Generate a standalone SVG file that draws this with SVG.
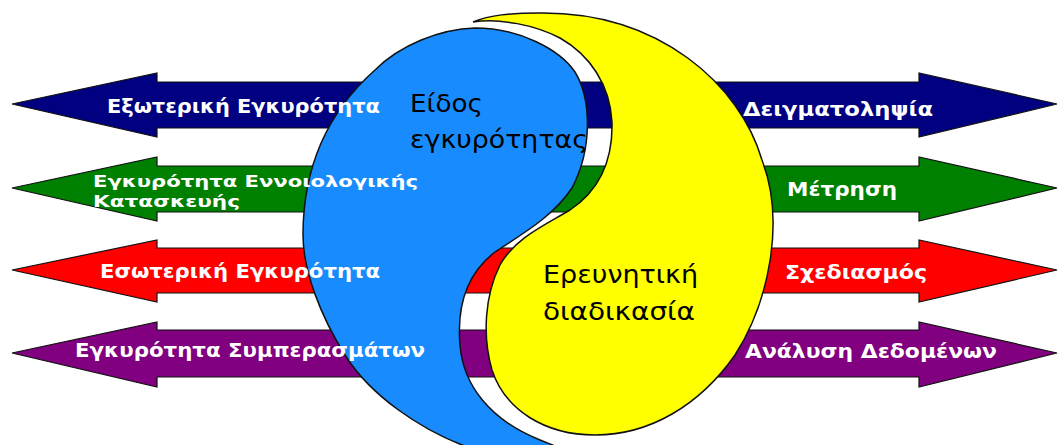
<svg xmlns="http://www.w3.org/2000/svg" width="1058" height="445" viewBox="0 0 1058 445">
<style>
.arrow{stroke:#111;stroke-width:1.2;stroke-linejoin:miter}
.lbl{font-family:"DejaVu Sans","Liberation Sans",sans-serif;font-weight:bold;font-size:19px;fill:#fff}
.sm{font-size:16px}
.ctr{font-family:"DejaVu Sans","Liberation Sans",sans-serif;font-size:25px;fill:#000}
.shape{stroke:#111;stroke-width:1.5}
</style>
<rect width="1058" height="445" fill="#fff"/>
<g id="arrow-navy">
<polygon class="arrow" fill="#000080" points="12,104 157,73 157,82 919,82 919,73 1057,104 919,137 919,128 157,128 157,137"/>
</g>
<g id="arrow-green">
<polygon class="arrow" fill="#008000" points="12,188 157,157 157,166 919,166 919,157 1057,188 919,221 919,212 157,212 157,221"/>
</g>
<g id="arrow-red">
<polygon class="arrow" fill="#ff0000" points="12,270 157,240 157,248 919,248 919,240 1057,270 919,302 919,293 157,293 157,302"/>
</g>
<g id="arrow-purple">
<polygon class="arrow" fill="#800080" points="12,353 157,322 157,330 919,330 919,322 1057,353 919,387 919,377 157,377 157,387"/>
</g>
<g id="yin-blue">
<path class="shape" fill="#188cff" d="M 470,448 C 420,430 370,395 345,355 C 320,315 303,270 303,235 C 303,165 330,110 375,70 C 400,45 440,29 475,28 C 520,28 560,50 575,72 C 592,100 592,150 572,188 C 552,218 520,235 495,252 C 465,275 457,310 460,345 C 463,385 490,420 540,440 L 560,448 Z"/>
</g>
<g id="yang-yellow">
<path class="shape" fill="#ffff00" d="M 473,22 C 490,15 510,13 540,13 C 660,12 740,85 762,160 C 785,220 770,300 735,355 C 700,405 650,435 595,435 C 545,435 505,410 492,370 C 482,335 485,295 500,265 C 515,238 545,225 570,210 C 600,190 613,160 612,122 C 610,85 590,55 560,38 C 535,25 500,18 473,22 Z"/>
</g>
<g id="labels-left">
<text class="lbl" x="107" y="113" textLength="273" lengthAdjust="spacingAndGlyphs">Εξωτερική Εγκυρότητα</text>
<text class="lbl sm" x="93" y="187" textLength="325" lengthAdjust="spacingAndGlyphs">Εγκυρότητα Εννοιολογικής</text>
<text class="lbl sm" x="93" y="207" textLength="147" lengthAdjust="spacingAndGlyphs">Κατασκευής</text>
<text class="lbl" x="100" y="278" textLength="280" lengthAdjust="spacingAndGlyphs">Εσωτερική Εγκυρότητα</text>
<text class="lbl" x="75" y="357" textLength="350" lengthAdjust="spacingAndGlyphs">Εγκυρότητα Συμπερασμάτων</text>
</g>
<g id="labels-right">
<text class="lbl" x="743" y="116" textLength="190" lengthAdjust="spacingAndGlyphs">Δειγματοληψία</text>
<text class="lbl" x="787" y="196" textLength="110" lengthAdjust="spacingAndGlyphs">Μέτρηση</text>
<text class="lbl" x="785" y="279" textLength="142" lengthAdjust="spacingAndGlyphs">Σχεδιασμός</text>
<text class="lbl" x="745" y="358" textLength="252" lengthAdjust="spacingAndGlyphs">Ανάλυση Δεδομένων</text>
</g>
<g id="label-type">
<text class="ctr" x="410" y="112" textLength="73" lengthAdjust="spacingAndGlyphs">Είδος</text>
<text class="ctr" x="410" y="148" textLength="178" lengthAdjust="spacingAndGlyphs">εγκυρότητας</text>
</g>
<g id="label-process">
<text class="ctr" x="543" y="283" textLength="155" lengthAdjust="spacingAndGlyphs">Ερευνητική</text>
<text class="ctr" x="543" y="320" textLength="152" lengthAdjust="spacingAndGlyphs">διαδικασία</text>
</g>
</svg>
